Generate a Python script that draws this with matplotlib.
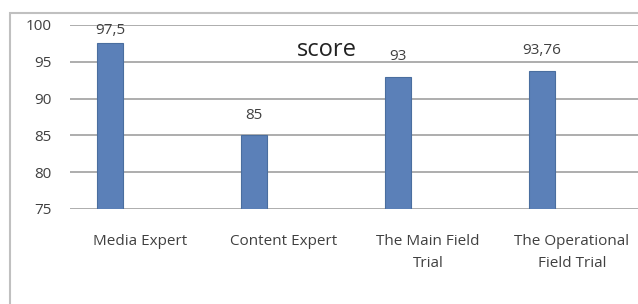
import matplotlib.pyplot as plt
from matplotlib.patches import Rectangle
from matplotlib.transforms import ScaledTranslation

categories = ["Media Expert", "Content Expert", "The Main Field\nTrial", "The Operational\nField Trial"]
scores = [97.5, 85, 93, 93.76]
value_labels = ["97,5", "85", "93", "93,76"]
yticks = [75, 80, 85, 90, 95, 100]

plt.rcParams['font.family'] = ['Open Sans', 'DejaVu Sans']
text_color = "#404040"

fig = plt.figure(figsize=(6.38, 3.04), dpi=100)
W, H = 638, 304

# outer chart frame (cut off at the right and bottom like the reference)
fig.patches.append(Rectangle((10 / W, -0.05), 1.1, 1 - 13 / H + 0.05, transform=fig.transFigure,
                             fill=False, edgecolor="#c0c0c0", linewidth=1.5))

ax = fig.add_axes([70 / W, 1 - 209 / H, 1 - 70 / W, (209 - 25) / H])
x = range(len(categories))
ax.bar(x, [s - 75 for s in scores], bottom=75, width=0.174, color="#5b80b8",
       edgecolor="#4a6e9f", linewidth=0.8, zorder=3)

ax.set_ylim(75, 100)
ax.set_xlim(-40 / 144, (638 - 110) / 144)
ax.set_yticks(yticks)
ax.set_yticklabels([str(t) for t in yticks], fontsize=11, color=text_color)
ax.tick_params(axis="y", length=0, pad=13)
ax.set_xticks(list(x))
ax.set_xticklabels(categories, fontsize=11, color=text_color, linespacing=1.6)
ax.tick_params(axis="x", length=0, pad=18)
# category labels sit a bit right of the bars in the original
shift = ScaledTranslation(0.30, 0, fig.dpi_scale_trans)
for lab in ax.get_xticklabels():
    lab.set_transform(lab.get_transform() + shift)
ax.grid(axis="y", color="#a0a0a0", linewidth=1.2, zorder=0)
for s in ax.spines.values():
    s.set_visible(False)

for i, (v, lab) in enumerate(zip(scores, value_labels)):
    off = 9 if v < 96 else 4
    ax.annotate(lab, (i, v), xytext=(0, off), textcoords="offset points", ha="center", va="bottom",
                fontsize=11, color=text_color, annotation_clip=False)

fig.text(327 / W, 1 - 50 / H, "score", ha="center", va="center", fontsize=17, color="#222222")

fig.savefig("out.png", dpi=100)
